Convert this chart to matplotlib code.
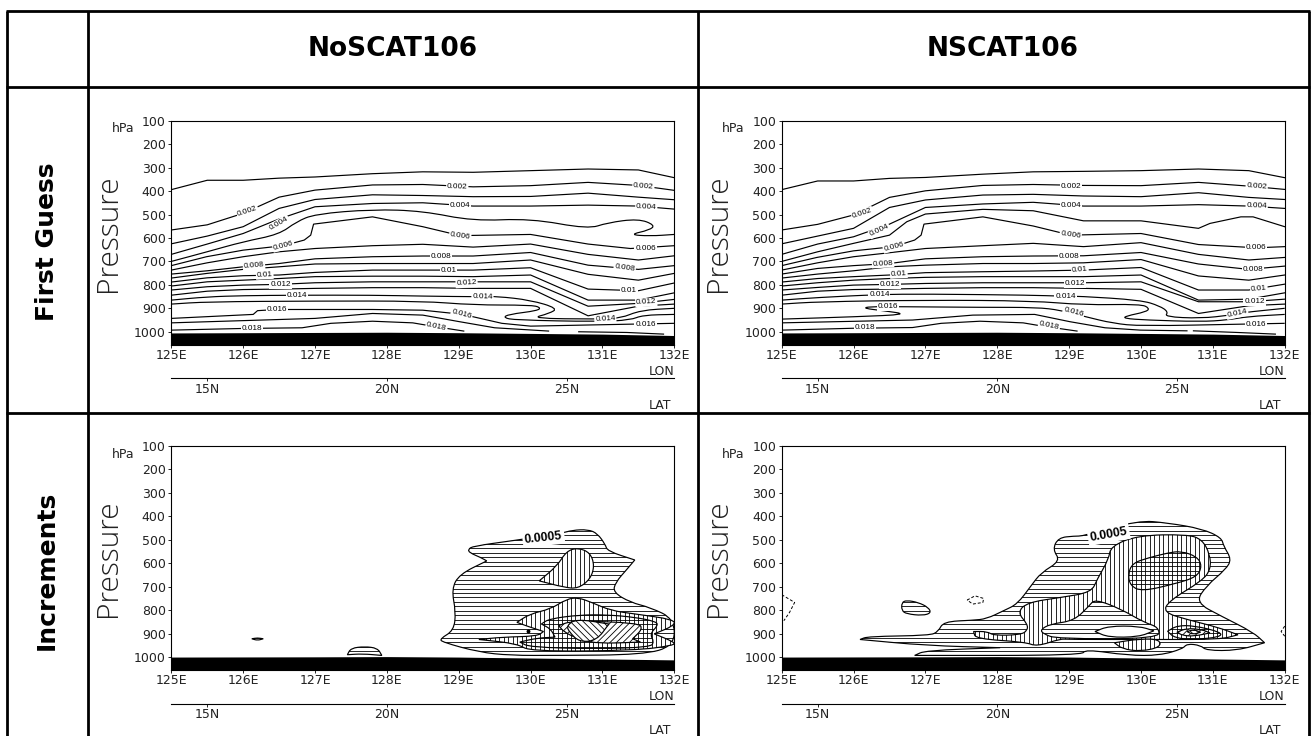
import numpy as np
import matplotlib
matplotlib.use("Agg")
import matplotlib.pyplot as plt
from matplotlib.collections import LineCollection
from matplotlib.patches import PathPatch
from matplotlib.path import Path

# axis values
lon_ticks = [125, 126, 127, 128, 129, 130, 131, 132]
lon_labels = ["125E", "126E", "127E", "128E", "129E", "130E", "131E", "132E"]
lat_ticks = [15, 20, 25]
lat_labels = ["15N", "20N", "25N"]
p_ticks = [100, 200, 300, 400, 500, 600, 700, 800, 900, 1000]

ground_lon = [125, 127, 128, 129, 130, 131, 132]
ground_top_p = [1005, 1003, 1002, 1004, 1007, 1010, 1016]
ground_bot_p = [1000, 999, 998, 1000, 1004, 1008, 1012]

# first guess, shared longitudes of the regular isolines
cols = [125, 125.5, 126, 126.5, 127, 127.8, 128.5, 129.2, 130, 130.8, 131.5, 132]

# First Guess, NoSCAT106
a_q001 = [394, 354, 354, 345, 340, 326, 318, 320, 313, 306, 310, 343]
a_q002 = [566, 544, 495, 426, 396, 374, 372, 382, 377, 363, 376, 397]
a_q003 = [625, 592, 552, 474, 436, 416, 419, 424, 423, 409, 426, 437]
a_q004 = [670, 626, 581, 519, 467, 453, 450, 464, 464, 460, 464, 477]
a_q005 = [(125, 700), (125.5, 659), (126, 616), (126.5, 585), (126.74, 531), (127, 498), (127.8, 478),
          (128.5, 485), (129.2, 528), (130, 517), (130.8, 562), (131.07, 535), (131.5, 518),
          (131.73, 545), (131.66, 566), (131.37, 586), (131.66, 592), (132, 585)]
a_q006 = [(125, 718), (125.49, 680), (126, 652), (126.56, 633), (126.85, 609), (126.94, 588), (126.98, 541),
          (127.8, 510), (128.5, 552), (129.02, 590), (130, 585), (130.8, 626), (131.39, 645), (132, 633)]
a_q007 = [737, 706, 680, 659, 645, 633, 627, 639, 626, 670, 694, 676]
a_q008 = [754, 740, 723, 709, 689, 680, 677, 677, 662, 716, 734, 718]
a_q009 = [771, 751, 734, 723, 711, 709, 709, 709, 694, 755, 780, 751]
a_q010 = [788, 770, 761, 758, 747, 737, 737, 737, 727, 818, 825, 792]
a_q011 = [805, 787, 780, 773, 765, 763, 763, 765, 758, 865, 865, 834]
a_q012 = [822, 808, 801, 798, 791, 787, 787, 787, 787, 891, 879, 862]
a_q013 = [844, 827, 820, 818, 815, 812, 812, 815, 815, 932, 891, 882]
a_q014 = [(125, 865), (125.5, 851), (126, 846), (126.75, 844), (127.8, 844), (128.5, 848), (129.33, 851),
          (129.53, 849), (130, 865), (130.38, 900), (130.26, 922), (130, 943), (130.94, 946),
          (131.25, 943), (131.53, 908), (132, 900)]
a_q015 = [(125, 882), (125.5, 872), (127, 869), (128.5, 869), (129.2, 886), (130, 886), (130.14, 896),
          (130.1, 910), (129.69, 926), (129.62, 940), (129.79, 950), (130.94, 957), (131.39, 950),
          (131.56, 929), (132, 926)]
a_q016 = [(125, 943), (126.14, 926), (126.2, 910), (126.47, 905), (127.8, 905), (128.5, 908), (129.06, 926),
          (129.2, 936), (129.6, 964), (130, 976), (131.49, 967), (132, 964)]
a_q017a = [(125, 962), (127, 943), (127.8, 922), (128.5, 929), (129.01, 957), (129.5, 983), (130.25, 997)]
a_q017b = [(130.67, 1000), (131.34, 1003), (131.85, 1010)]
a_q018 = [(125, 993), (125.98, 986), (126.82, 983), (127.22, 964), (127.8, 955), (128.36, 962),
          (128.63, 976), (129.07, 997)]

# First Guess, NSCAT106
b_q001 = [394, 357, 357, 346, 342, 328, 318, 316, 313, 306, 313, 343]
b_q002 = [566, 542, 502, 427, 399, 376, 372, 376, 377, 363, 379, 393]
b_q003 = [625, 592, 559, 470, 438, 417, 414, 421, 424, 407, 427, 436]
b_q004 = [670, 626, 595, 541, 470, 455, 448, 464, 464, 458, 464, 474]
b_q005 = [(125, 700), (125.5, 659), (126, 623), (126.5, 588), (126.74, 531), (127, 498), (127.8, 478),
          (128.5, 484), (129.2, 527), (130, 527), (130.8, 559), (130.96, 538), (131.39, 510),
          (131.56, 510), (132, 552)]
b_q006 = [(125, 718), (125.49, 683), (126, 655), (126.56, 637), (126.85, 609), (126.94, 588), (126.98, 541),
          (127.8, 510), (128.5, 549), (129.02, 588), (130, 581), (130.8, 628), (131.61, 642), (132, 637)]
b_q007 = [737, 706, 680, 663, 645, 633, 623, 637, 620, 670, 694, 683]
b_q008 = [754, 730, 718, 709, 689, 680, 677, 676, 662, 711, 734, 720]
b_q009 = [771, 754, 740, 723, 716, 709, 709, 706, 692, 762, 780, 758]
b_q010 = [788, 773, 765, 758, 748, 744, 741, 737, 726, 822, 822, 797]
b_q011 = [805, 791, 780, 773, 768, 765, 765, 765, 758, 865, 861, 834]
b_q012 = [822, 811, 801, 798, 794, 791, 791, 791, 787, 872, 872, 861]
b_q013 = [844, 827, 820, 818, 815, 812, 812, 815, 819, 922, 889, 882]
b_q014 = [(125, 865), (125.5, 854), (126.36, 841), (127, 839), (128.5, 844), (128.84, 848), (129.13, 848),
          (130, 865), (130.26, 890), (130.38, 915), (130.33, 936), (130.83, 943), (131.25, 929),
          (131.39, 919), (132, 900)]
b_q015 = [(125, 882), (125.5, 872), (127, 865), (128.5, 868), (129.2, 886), (130, 882), (130.12, 900),
          (130.07, 915), (129.79, 933), (129.76, 943), (130.07, 950), (130.83, 957), (131.2, 950),
          (131.49, 935), (132, 926)]
b_q016 = [(125, 946), (126.03, 936), (126.77, 926), (126.41, 910), (126.14, 900), (126.21, 893), (126.63, 893),
          (127.8, 896), (128.55, 896), (128.88, 908), (129.23, 936), (129.61, 964), (130, 976),
          (131.49, 967), (132, 964)]
b_q017a = [(125, 962), (126.82, 950), (127.66, 929), (128.52, 926), (129.01, 957), (129.5, 983), (129.99, 993),
           (130.64, 996)]
b_q017b = [(130.73, 996), (131.34, 1003), (131.87, 1010)]
b_q018 = [(125, 993), (126, 985), (126.82, 982), (127.22, 964), (127.76, 955), (128.36, 962),
          (128.63, 976), (129.11, 997)]

# isoline labels: text, lon, pressure, rotation
a_labels = [("0.002", 126.06, 488, 18), ("0.002", 128.98, 381, -2), ("0.002", 131.57, 379, -5),
            ("0.004", 126.5, 538, 30), ("0.004", 129.02, 463, 0), ("0.004", 131.61, 467, -3),
            ("0.006", 126.56, 633, 15), ("0.006", 129.02, 590, -8), ("0.006", 131.6, 645, 0),
            ("0.008", 126.15, 718, 5), ("0.008", 128.75, 680, 0), ("0.008", 131.31, 728, -8),
            ("0.01", 126.3, 758, 3), ("0.01", 128.86, 740, 0), ("0.01", 131.37, 824, 0),
            ("0.012", 126.52, 798, 0), ("0.012", 129.11, 794, 3), ("0.012", 131.61, 875, 3),
            ("0.014", 126.75, 844, 0), ("0.014", 129.33, 851, -2), ("0.014", 131.04, 946, 3),
            ("0.016", 126.47, 905, 0), ("0.016", 129.04, 925, -15), ("0.016", 131.6, 967, 0),
            ("0.018", 126.12, 986, 0), ("0.018", 128.69, 979, -12)]
b_labels = [("0.002", 126.12, 495, 18), ("0.002", 129.03, 379, 0), ("0.002", 131.61, 382, -5),
            ("0.004", 126.36, 569, 25), ("0.004", 129.03, 463, 0), ("0.004", 131.61, 464, -2),
            ("0.006", 126.56, 637, 15), ("0.006", 129.02, 588, -8), ("0.006", 131.6, 642, 0),
            ("0.008", 126.41, 709, 3), ("0.008", 129.0, 680, 0), ("0.008", 131.56, 734, 0),
            ("0.01", 126.63, 754, 3), ("0.01", 129.15, 737, 5), ("0.01", 131.64, 815, 5),
            ("0.012", 126.51, 800, 0), ("0.012", 129.08, 794, 0), ("0.012", 131.58, 871, 0),
            ("0.014", 126.36, 841, 0), ("0.014", 128.95, 848, 0), ("0.014", 131.34, 922, 12),
            ("0.016", 126.48, 893, 0), ("0.016", 129.06, 918, -15), ("0.016", 131.6, 967, 0),
            ("0.018", 126.16, 983, 0), ("0.018", 128.72, 976, -12)]

# Increments, NoSCAT106: shaded regions
c_outer = [(129.13, 541), (129.2, 527), (129.77, 503), (130.42, 473), (130.58, 459), (130.8, 456), (130.93, 473),
           (131.04, 520), (131.07, 548), (131.45, 586), (131.34, 626), (131.18, 682), (131.15, 724),
           (131.39, 767), (131.66, 788), (132, 837), (132, 953), (131.56, 990), (130.37, 993), (129.72, 993),
           (129.28, 979), (128.77, 936), (128.74, 922), (128.93, 887), (128.96, 809), (128.9, 710),
           (129.01, 647), (129.39, 590), (129.31, 576), (129.15, 555)]
c_lobe = [(130.12, 675), (130.37, 611), (130.5, 548), (130.66, 534), (130.83, 555), (130.89, 611),
          (130.83, 668), (130.66, 708), (130.47, 703)]
c_vert = [(129.81, 852), (129.99, 816), (130.28, 795), (130.5, 753), (130.66, 746), (130.85, 767), (131.12, 802),
          (131.45, 816), (132, 840), (132, 866), (131.72, 901), (132, 936), (132, 950), (131.45, 972),
          (129.99, 976), (129.82, 943), (129.28, 925), (129.61, 915), (130.09, 911), (130.18, 891), (129.96, 869)]
c_cross = [(130.15, 859), (130.26, 837), (130.69, 820), (131.07, 820), (131.45, 830), (131.75, 849), (131.77, 866),
           (131.66, 901), (131.72, 936), (131.66, 958), (130.91, 965), (129.99, 958), (129.85, 936),
           (130.09, 919), (130.34, 915), (130.28, 880)]
c_fwd = [(130.39, 866), (130.58, 845), (131.5, 854), (131.56, 880), (131.42, 922), (131.53, 936), (130.91, 943),
         (130.64, 919), (130.47, 894)]
c_back = [(130.5, 866), (130.64, 837), (131.09, 859), (130.92, 929), (130.68, 936), (130.54, 894)]
c_hat = [(127.45, 990), (127.5, 962), (127.69, 955), (127.87, 962), (127.93, 993), (127.66, 986)]
c_lens = [(126.12, 922), (126.2, 918), (126.28, 922), (126.2, 929)]
c_dot = [(129.96, 890)]

# Increments, NSCAT106: shaded regions
d_outer = [(126.09, 925), (126.2, 912), (127.06, 908), (127.18, 891), (127.25, 849), (127.66, 843), (127.85, 837),
           (128.09, 802), (128.28, 774), (128.47, 696), (128.61, 640), (128.88, 590), (128.77, 541),
           (128.85, 491), (129.07, 484), (129.2, 484), (129.96, 417), (130.37, 428), (130.85, 453),
           (131.12, 491), (131.15, 527), (131.26, 583), (131.18, 626), (130.91, 696), (130.76, 767),
           (131.12, 826), (131.56, 894), (131.72, 939), (131.34, 972), (130.91, 972), (130.83, 950),
           (130.64, 943), (130.58, 965), (130.26, 993), (129.82, 993), (129.22, 967), (129.18, 993),
           (126.85, 993), (127.0, 972), (128.04, 960), (127.01, 951)]
d_vert = [(128.28, 809), (128.42, 767), (128.88, 746), (129.31, 724), (129.39, 668), (129.55, 583), (129.58, 527),
          (129.96, 481), (130.64, 477), (130.85, 498), (130.96, 562), (130.97, 626), (130.85, 675),
          (130.39, 760), (130.31, 809), (130.64, 840), (131.07, 873), (131.35, 905), (131.1, 925),
          (130.26, 925), (128.98, 925), (128.88, 922), (128.55, 955), (128.39, 936), (127.7, 922),
          (127.67, 891), (127.86, 891), (127.95, 908), (128.32, 905), (128.42, 887), (128.42, 859)]
d_peak = [(128.6, 883), (128.74, 859), (129.07, 845), (129.28, 781), (129.36, 753), (129.72, 795), (130.04, 852),
          (130.25, 873), (130.25, 922), (128.83, 922), (128.64, 901)]
d_hole = [(129.36, 891), (129.55, 868), (129.97, 868), (130.18, 888), (129.97, 914), (129.55, 916)]
d_low = [(129.63, 939), (129.99, 922), (130.26, 925), (130.27, 958), (129.99, 976), (129.74, 965)]
d_cross_up = [(129.82, 647), (129.88, 600), (130.09, 578), (130.37, 556), (130.56, 548), (130.78, 572),
              (130.85, 611), (130.78, 658), (130.47, 688), (130.01, 720), (129.85, 695)]
d_cross_low = [(130.37, 890), (130.5, 866), (130.74, 866), (131.12, 894), (131.1, 915), (130.74, 925), (130.47, 919)]
d_fwd = [(130.5, 894), (130.64, 877), (130.85, 883), (130.96, 897), (130.74, 911), (130.58, 908)]
d_back = [(130.64, 891), (130.74, 883), (130.83, 894), (130.72, 904)]
d_small = [(126.67, 767), (126.74, 758), (126.9, 767), (127.04, 788), (127.08, 812), (126.96, 823),
           (126.74, 816), (126.67, 802)]
d_dash1 = [(127.58, 757), (127.69, 739), (127.81, 750), (127.8, 767), (127.66, 774), (127.58, 757)]
d_dash2 = [(125, 734), (125.18, 767), (125.11, 809), (125.03, 845)]
d_dash3 = [(132, 868), (131.95, 891), (132, 911)]

W, H = 1311, 736
TICK_FONT = "DejaVu Sans"
TICK_SIZE = 9
TICK_COLOR = "#222222"
P_BOTTOM = 1056
# pixels per degree and per hPa, used only to judge corner sharpness
PX_LON, PX_P = 71.9, 0.2346


def lon2lat(x):
    return 14 + (np.asarray(x, dtype=float) - 125) * 2


def lat2lon(x):
    return 125 + (np.asarray(x, dtype=float) - 14) / 2


def curve_path(pts, closed):
    # quadratic curve through the midpoints, sharp corners of closed regions stay sharp
    pts = np.array(pts, dtype=float)
    if closed:
        keep = []
        n = len(pts)
        for i in range(n):
            a = (pts[i] - pts[i - 1]) * [PX_LON, PX_P]
            b = (pts[(i + 1) % n] - pts[i]) * [PX_LON, PX_P]
            cosang = a @ b / (np.hypot(*a) * np.hypot(*b))
            keep.append(pts[i])
            if cosang < -0.2:
                keep.append(pts[i])
        pts = np.array(keep)
        mids = (pts + np.roll(pts, -1, axis=0)) / 2
        verts = [mids[-1]]
        codes = [Path.MOVETO]
        for i in range(len(pts)):
            verts += [pts[i], mids[i]]
            codes += [Path.CURVE3, Path.CURVE3]
        return Path(verts, codes)
    mids = (pts[:-1] + pts[1:]) / 2
    verts = [pts[0], mids[0]]
    codes = [Path.MOVETO, Path.LINETO]
    for i in range(1, len(pts) - 1):
        verts += [pts[i], mids[i]]
        codes += [Path.CURVE3, Path.CURVE3]
    verts.append(pts[-1])
    codes.append(Path.LINETO)
    return Path(verts, codes)


def make_panel(fig, left, top, ground):
    ax = fig.add_axes([left / W, 1 - (top + 224.2) / H, 503 / W, 224.2 / H])
    ax.set_xlim(125, 132)
    ax.set_ylim(P_BOTTOM, 100)
    ax.set_xticks(lon_ticks, lon_labels, fontsize=TICK_SIZE, family=TICK_FONT, color=TICK_COLOR)
    ax.set_yticks(p_ticks, p_ticks, fontsize=TICK_SIZE, family=TICK_FONT, color=TICK_COLOR)
    ax.tick_params(axis="x", length=2, width=0.6, pad=0.8)
    ax.tick_params(axis="y", length=2.2, width=0.6, pad=1.8)
    for s in ax.spines.values():
        s.set_linewidth(0.8)
        s.set_zorder(60)
    ax.fill_between(ground_lon, ground, P_BOTTOM, color="k", lw=0, zorder=50)

    sec = ax.secondary_xaxis(-0.1487, functions=(lon2lat, lat2lon))
    sec.set_xticks(lat_ticks, lat_labels, fontsize=TICK_SIZE, family=TICK_FONT, color=TICK_COLOR)
    sec.tick_params(axis="x", length=2, width=0.6, pad=1.5)
    sec.spines["bottom"].set_linewidth(0.8)
    return ax


def draw_lines(ax, regular, kinked, curls, labels):
    for vals in regular:
        ax.plot(cols, vals, color="k", lw=0.85, zorder=5)
    for pts in kinked:
        ax.plot(*zip(*pts), color="k", lw=0.85, zorder=5)
    for pts in curls:
        ax.add_patch(PathPatch(curve_path(pts, False), fill=False, ec="k", lw=0.85, zorder=5))
    for txt, x, y, rot in labels:
        ax.text(x, y, txt, rotation=rot, rotation_mode="anchor", ha="center", va="center",
                fontsize=5.9, family="Liberation Sans", zorder=6,
                bbox=dict(fc="white", ec="none", pad=0.6))


def hatch(ax, pts, kinds, z):
    # white base so each level hides the one below
    path = curve_path(pts, True)
    poly = PathPatch(path, fc="white", ec="none", zorder=z)
    ax.add_patch(poly)
    segs = []
    if "h" in kinds:
        segs += [[(125, p), (132, p)] for p in np.arange(100, 1056, 19.0)]
    if "v" in kinds:
        segs += [[(x, 100), (x, 1056)] for x in np.arange(125, 132.01, 0.0625)]
    if "f" in kinds:
        segs += [[(x, 1056), (x + 3.12, 100)] for x in np.arange(121, 133, 0.09)]
    if "b" in kinds:
        segs += [[(x, 100), (x + 3.12, 1056)] for x in np.arange(121, 133, 0.09)]
    if segs:
        lc = LineCollection(segs, colors="k", linewidths=0.6, zorder=z)
        ax.add_collection(lc)
        lc.set_clip_path(poly)
    ax.add_patch(PathPatch(path, fill=False, ec="k", lw=0.85, zorder=z))


def frame_text(bg, left, top, right):
    # text around one panel, given in page pixels
    kw = dict(color=TICK_COLOR, va="center")
    bg.text(left - 37, top + 8, "hPa", ha="right", fontsize=TICK_SIZE, family=TICK_FONT, **kw)
    bg.text(left - 63, top + 112, "Pressure", ha="center", rotation=90, fontsize=21.5, family="Open Sans",
            weight="light", **kw)
    bg.text(right, top + 250.5, "LON", ha="right", fontsize=TICK_SIZE, family=TICK_FONT, **kw)
    bg.text(right - 3, top + 284.5, "LAT", ha="right", fontsize=TICK_SIZE, family=TICK_FONT, **kw)


fig = plt.figure(figsize=(W / 100, H / 100), dpi=100)

bg = fig.add_axes([0, 0, 1, 1])
bg.set_xlim(0, W)
bg.set_ylim(H, 0)
bg.axis("off")
for x in [7, 88, 698, 1309]:
    bg.plot([x, x], [10.5, H], color="k", lw=2.0, solid_capstyle="butt")
for y in [10.5, 87, 412.7]:
    bg.plot([6, 1310], [y, y], color="k", lw=2.0, solid_capstyle="butt")

title_kw = dict(ha="center", va="center", family="DejaVu Sans", weight="bold")
bg.text(393, 49.5, "NoSCAT106", fontsize=19, **title_kw)
bg.text(1003, 49.5, "NSCAT106", fontsize=19, **title_kw)
bg.text(47, 242, "First Guess", rotation=90, fontsize=18, **title_kw)
bg.text(47, 570, "Increments", rotation=90, fontsize=18, **title_kw)

col_left = [171.3, 781.7]
row_top = [120.7, 446.0]

ax_a = make_panel(fig, col_left[0], row_top[0], ground_top_p)
draw_lines(ax_a, [a_q001, a_q002, a_q003, a_q004, a_q007, a_q008, a_q009, a_q010, a_q011, a_q012, a_q013],
           [a_q006, a_q016, a_q017a, a_q017b, a_q018], [a_q005, a_q014, a_q015], a_labels)

ax_b = make_panel(fig, col_left[1], row_top[0], ground_top_p)
draw_lines(ax_b, [b_q001, b_q002, b_q003, b_q004, b_q007, b_q008, b_q009, b_q010, b_q011, b_q012, b_q013],
           [b_q005, b_q006, b_q017a, b_q017b, b_q018], [b_q014, b_q015, b_q016], b_labels)

ax_c = make_panel(fig, col_left[0], row_top[1], ground_bot_p)
for i, (pts, kinds) in enumerate([(c_outer, "h"), (c_lobe, "v"), (c_vert, "v"), (c_cross, "hv"),
                                  (c_fwd, "f"), (c_back, "b"), (c_hat, "h"), (c_lens, "h")]):
    hatch(ax_c, pts, kinds, 10 + i)
ax_c.plot(*zip(*c_dot), "o", color="k", ms=1.8, zorder=20)
ax_c.text(130.18, 491, "0.0005", rotation=6, rotation_mode="anchor", ha="center", va="center", fontsize=8.8,
          weight="bold", family="Liberation Sans", zorder=30, bbox=dict(fc="white", ec="none", pad=1.5))

ax_d = make_panel(fig, col_left[1], row_top[1], ground_bot_p)
for i, (pts, kinds) in enumerate([(d_outer, "h"), (d_small, "h"), (d_vert, "v"), (d_peak, "h"), (d_hole, ""),
                                  (d_low, "v"), (d_cross_up, "hv"), (d_cross_low, "hv"),
                                  (d_fwd, "f"), (d_back, "b")]):
    hatch(ax_d, pts, kinds, 10 + i)
for pts in [d_dash1, d_dash2, d_dash3]:
    ax_d.plot(*zip(*pts), color="k", lw=0.7, ls=(0, (3, 2)), zorder=25)
ax_d.text(129.55, 477, "0.0005", rotation=10, rotation_mode="anchor", ha="center", va="center", fontsize=8.8,
          weight="bold", family="Liberation Sans", zorder=30, bbox=dict(fc="white", ec="none", pad=1.5))

for lf in col_left:
    for tp in row_top:
        frame_text(bg, lf, tp, lf + 503)

fig.savefig("out.png", dpi=100)
